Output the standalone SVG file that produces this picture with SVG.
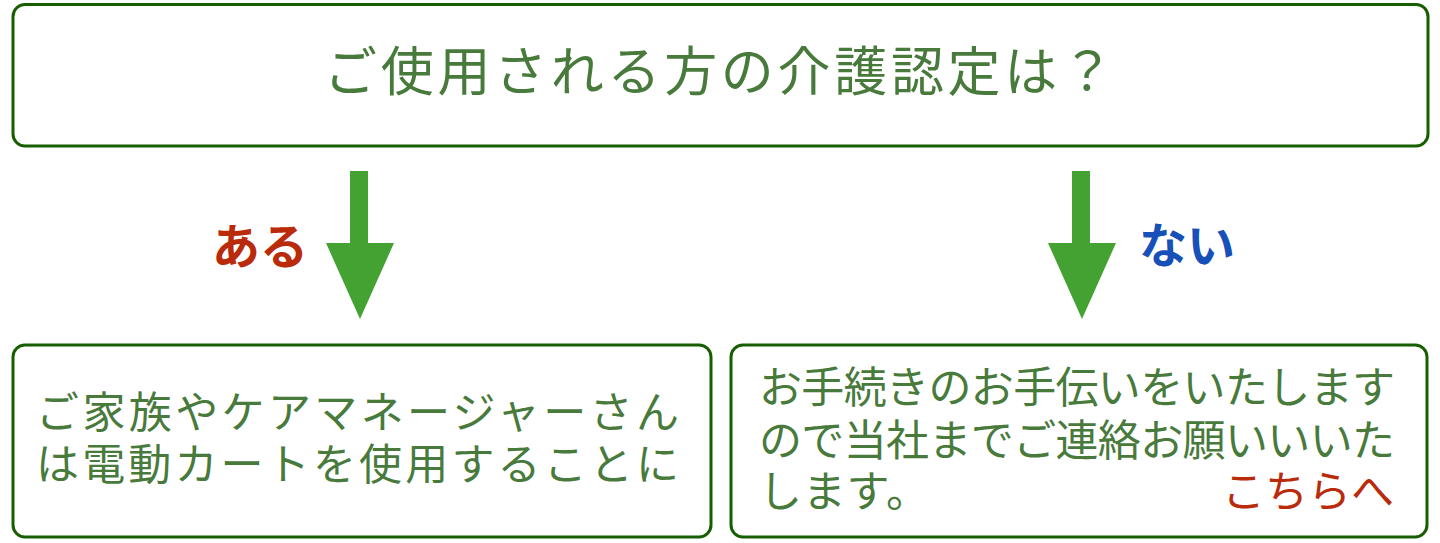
<svg xmlns="http://www.w3.org/2000/svg" width="1440" height="543" viewBox="0 0 1440 543">
  <style>
    .box { fill: #ffffff; stroke: #165e00; stroke-width: 3; }
    .txt { font-family: "Noto Sans CJK JP", "Noto Sans", sans-serif; fill: #487a3c; }
    .arrow { fill: #43a231; }
    .lbl { font-family: "Noto Sans CJK JP", "Noto Sans", sans-serif; font-weight: bold; font-size: 48px; }
  </style>
  <rect x="0" y="0" width="1440" height="543" fill="#ffffff"/>
  <g id="question">
    <rect class="box" x="13" y="4.5" width="1415" height="141.5" rx="12" ry="12"/>
    <text class="txt" x="324" y="91" font-size="53" textLength="790" lengthAdjust="spacing">ご使用される方の介護認定は？</text>
  </g>
  <g id="connectors">
    <g id="arrow-yes">
      <polygon class="arrow" points="350,171 368,171 368,243 394,243 360,319 326,243 350,243"/>
      <text class="lbl" x="212" y="264" fill="#b92b0b">ある</text>
    </g>
    <g id="arrow-no">
      <polygon class="arrow" points="1072,171 1090,171 1090,243 1116,243 1082,319 1048,243 1072,243"/>
      <text class="lbl" x="1139" y="263" fill="#1650b8">ない</text>
    </g>
  </g>
  <g id="yes-box">
    <rect class="box" x="13" y="345" width="698" height="192" rx="12" ry="12"/>
    <text class="txt" x="36" y="428" font-size="43" textLength="643" lengthAdjust="spacing">ご家族やケアマネージャーさん</text>
    <text class="txt" x="36" y="480" font-size="43" textLength="643" lengthAdjust="spacing">は電動カートを使用することに</text>
  </g>
  <g id="no-box">
    <rect class="box" x="731" y="345" width="696" height="192" rx="12" ry="12"/>
    <text class="txt" x="759" y="403" font-size="43" textLength="636" lengthAdjust="spacing">お手続きのお手伝いをいたします</text>
    <text class="txt" x="759" y="456" font-size="43" textLength="636" lengthAdjust="spacing">ので当社までご連絡お願いいいた</text>
    <text class="txt" x="759" y="507" font-size="43" textLength="170" lengthAdjust="spacing">します。</text>
    <text class="txt" x="1222" y="507" font-size="43" textLength="172" lengthAdjust="spacing" style="fill:#b92b0b">こちらへ</text>
  </g>
</svg>
